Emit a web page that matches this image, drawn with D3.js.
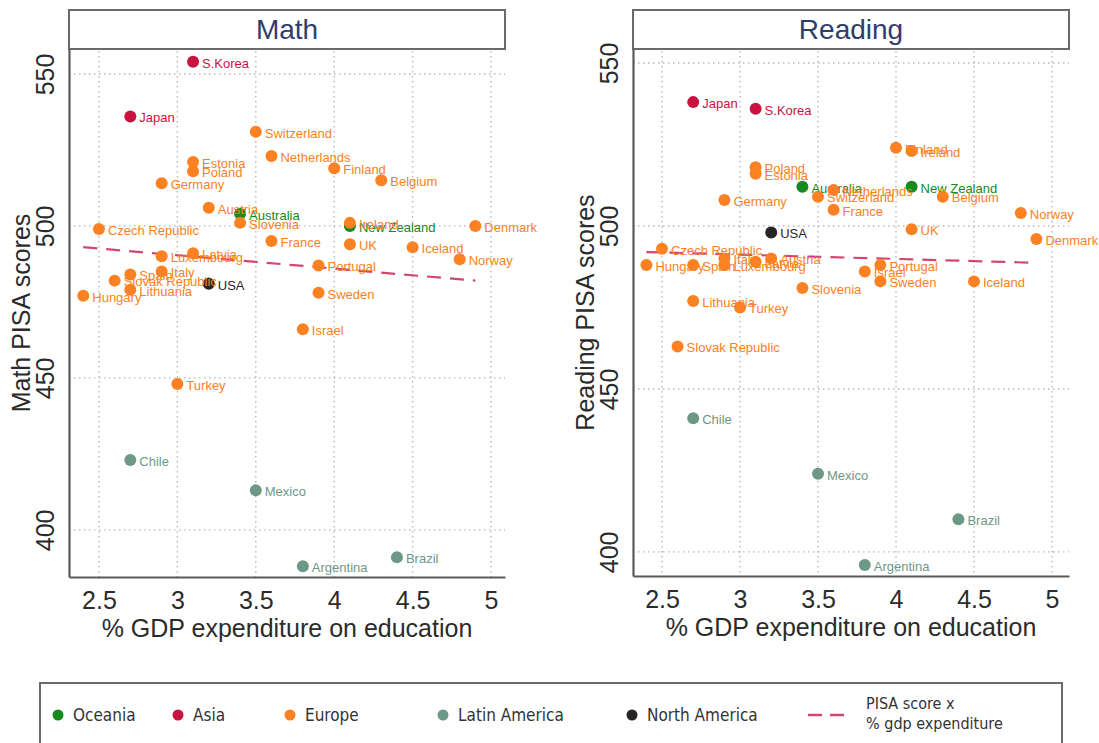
<!DOCTYPE html>
<html lang="en">
<head>
<meta charset="UTF-8">
<title>PISA scores vs education expenditure</title>
<script src="https://cdn.jsdelivr.net/npm/d3@7/dist/d3.min.js"></script>
<style>
  body { margin: 0; background: #fff; }
  svg { font-family: "Liberation Sans", Arial, Helvetica, sans-serif; }
  .grid line { stroke: #b8b8b8; stroke-width: 1.4; stroke-dasharray: 1.5,3.5; }
  .pt-label { font-size: 13px; }
</style>
</head>
<body>
<div id="vis"></div>
<script>

// ---- data (PISA 2012) ----
var countries = ["Australia","New Zealand","Japan","S.Korea","USA","Chile","Mexico","Brazil","Argentina",
  "Switzerland","Netherlands","Estonia","Poland","Finland","Belgium","Germany","Austria","Slovenia","Ireland",
  "Denmark","Czech Republic","France","UK","Iceland","Latvia","Luxembourg","Norway","Portugal","Italy","Spain",
  "Slovak Republic","Lithuania","Sweden","Hungary","Israel","Turkey"];
var regions = ["Oceania","Oceania","Asia","Asia","North America","Latin America","Latin America","Latin America","Latin America",
  "Europe","Europe","Europe","Europe","Europe","Europe","Europe","Europe","Europe","Europe",
  "Europe","Europe","Europe","Europe","Europe","Europe","Europe","Europe","Europe","Europe","Europe",
  "Europe","Europe","Europe","Europe","Europe","Europe"];
var gdpSpend = [3.4,4.1,2.7,3.1,3.2,2.7,3.5,4.4,3.8,
  3.5,3.6,3.1,3.1,4.0,4.3,2.9,3.2,3.4,4.1,
  4.9,2.5,3.6,4.1,4.5,3.1,2.9,4.8,3.9,2.9,2.7,
  2.6,2.7,3.9,2.4,3.8,3.0];
var mathScores = [504,500,536,554,481,423,413,391,388,
  531,523,521,518,519,515,514,506,501,501,
  500,499,495,494,493,491,490,489,487,485,484,
  482,479,478,477,466,448];
var readScores = [512,512,538,536,498,441,424,410,396,
  509,511,516,518,524,509,508,490,481,523,
  496,493,505,499,483,489,488,504,488,490,488,
  463,477,483,488,486,475];

// fitted line end points
var fitX = [2.4, 4.9];
var mathFit = [493, 482];
var readFit = [492, 488.7];

var xTicks = [2.5, 3, 3.5, 4, 4.5, 5];
var yTicks = [400, 450, 500, 550];

var legendRegions = ["Oceania","Asia","Europe","Latin America","North America"];
var regionColors = ["#16891f","#c8133e","#fb8122","#6e9886","#262626"];
var fitColor = "#d4466f";

var color = d3.scaleOrdinal().domain(legendRegions).range(regionColors);

var width = 1099, height = 743;
var svg = d3.select("#vis").append("svg")
    .attr("width", width)
    .attr("height", height);

var points = countries.map(function(c, i) {
  return { name: c, region: regions[i], x: gdpSpend[i], math: mathScores[i], read: readScores[i] };
});
// europe drawn last, like the original
var drawOrder = ["Oceania","Asia","Latin America","North America","Europe"];
points.sort(function(a, b) { return drawOrder.indexOf(a.region) - drawOrder.indexOf(b.region); });

function drawPanel(p) {
  var x = d3.scaleLinear().domain(p.xDomain).range([p.left, p.right]);
  var y = d3.scaleLinear().domain(p.yDomain).range([p.bottom, p.top]);
  var g = svg.append("g");

  // header strip
  g.append("rect")
    .attr("x", p.left).attr("y", p.headTop)
    .attr("width", p.right - p.left).attr("height", p.top - p.headTop)
    .attr("fill", "#fff").attr("stroke", "#6a6a6a").attr("stroke-width", 2);
  g.append("text")
    .attr("x", (p.left + p.right) / 2).attr("y", p.headTop + 29)
    .attr("text-anchor", "middle")
    .attr("font-size", 28).attr("fill", "#2f3d6b")
    .text(p.title);

  // grid
  var grid = g.append("g").attr("class", "grid");
  grid.selectAll(".vx").data(xTicks).enter().append("line")
    .attr("x1", function(d) { return x(d); }).attr("x2", function(d) { return x(d); })
    .attr("y1", p.top + 2).attr("y2", p.bottom);
  grid.selectAll(".hy").data(yTicks).enter().append("line")
    .attr("y1", function(d) { return y(d); }).attr("y2", function(d) { return y(d); })
    .attr("x1", p.left).attr("x2", p.right);

  // axes
  var xAxis = d3.axisBottom(x).tickValues(xTicks).tickSize(0).tickPadding(14)
      .tickFormat(function(d) { return d; });
  var gx = g.append("g").attr("transform", "translate(0," + p.bottom + ")").call(xAxis);
  gx.select(".domain").attr("stroke", "#5a5a5a").attr("stroke-width", 2.2);
  gx.selectAll("text").attr("font-size", 25).attr("fill", "#2b2b2b")
    .attr("font-family", "'Liberation Sans', Arial, sans-serif");

  var yAxis = d3.axisLeft(y).tickValues(yTicks).tickSize(0).tickPadding(0);
  var gy = g.append("g").attr("transform", "translate(" + p.left + ",0)").call(yAxis);
  gy.select(".domain").attr("stroke", "#5a5a5a").attr("stroke-width", 2.2);
  gy.selectAll("text")
    .attr("font-size", 25).attr("fill", "#2b2b2b")
    .attr("font-family", "'Liberation Sans', Arial, sans-serif")
    .attr("text-anchor", "middle")
    .attr("transform", "translate(-24,0) rotate(-90)")
    .attr("x", 0).attr("dy", "0.35em");

  // axis titles
  g.append("text")
    .attr("x", (p.left + p.right) / 2).attr("y", p.bottom + 60)
    .attr("text-anchor", "middle").attr("font-size", 25).attr("fill", "#2b2b2b")
    .text("% GDP expenditure on education");
  g.append("text")
    .attr("transform", "translate(" + (p.left - 39) + "," + ((p.top + p.bottom) / 2) + ") rotate(-90)")
    .attr("text-anchor", "middle").attr("font-size", 25).attr("fill", "#2b2b2b")
    .text(p.yTitle);

  // fitted line
  g.append("line")
    .attr("x1", x(fitX[0])).attr("y1", y(p.fit[0]))
    .attr("x2", x(fitX[1])).attr("y2", y(p.fit[1]))
    .attr("stroke", fitColor).attr("stroke-width", 2.2)
    .attr("stroke-dasharray", "14,9");

  // points and labels
  var key = p.key;
  var pts = g.selectAll(".pt").data(points).enter().append("g").attr("class", "pt")
    .attr("transform", function(d) { return "translate(" + x(d.x) + "," + y(d[key]) + ")"; });
  pts.append("circle").attr("r", 6).attr("fill", function(d) { return color(d.region); });
  pts.append("text").attr("class", "pt-label")
    .attr("x", 9).attr("dy", "0.45em")
    .attr("fill", function(d) { return color(d.region); })
    .text(function(d) { return d.name; });
}

drawPanel({ title: "Math", key: "math", yTitle: "Math PISA scores", fit: mathFit,
  left: 69, right: 505, headTop: 10, top: 49, bottom: 577,
  xDomain: [2.309, 5.089], yDomain: [384.5, 558.2] });

drawPanel({ title: "Reading", key: "read", yTitle: "Reading PISA scores", fit: readFit,
  left: 633, right: 1069, headTop: 10, top: 49, bottom: 576,
  xDomain: [2.314, 5.109], yDomain: [392.6, 554.3] });

// legend
var lg = svg.append("g").attr("font-family", "'Liberation Sans Narrow', 'DejaVu Sans Condensed', sans-serif");
lg.append("rect").attr("x", 40).attr("y", 683).attr("width", 1022).attr("height", 70)
  .attr("fill", "#fff").attr("stroke", "#6a6a6a").attr("stroke-width", 2);
var legendX = [58, 178, 290, 443, 632];
legendRegions.forEach(function(r, i) {
  lg.append("circle").attr("cx", legendX[i]).attr("cy", 715).attr("r", 5.5).attr("fill", color(r));
  lg.append("text").attr("x", legendX[i] + 15).attr("y", 721).attr("font-size", 17).attr("fill", "#333").text(r);
});
lg.append("line").attr("x1", 808).attr("x2", 846).attr("y1", 715).attr("y2", 715)
  .attr("stroke", fitColor).attr("stroke-width", 2.5).attr("stroke-dasharray", "14,8");
lg.append("text").attr("x", 866).attr("y", 709).attr("font-size", 16).attr("fill", "#333").text("PISA score x");
lg.append("text").attr("x", 866).attr("y", 729).attr("font-size", 16).attr("fill", "#333").text("% gdp expenditure");

</script>
</body>
</html>
